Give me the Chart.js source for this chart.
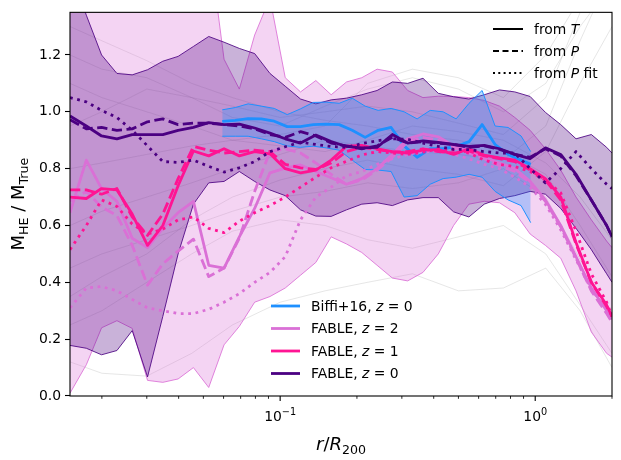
<!DOCTYPE html>
<html>
<head>
<meta charset="utf-8">
<script src="https://cdn.jsdelivr.net/npm/chart.js@4.4.0/dist/chart.umd.min.js"></script>
<style>
  html, body { margin: 0; padding: 0; background: #fff; }
</style>
</head>
<body>
<canvas id="chart" width="621" height="460"></canvas>
<script>
// radii (r/R200) for the FABLE profiles
const r = [0.015, 0.01738, 0.01995, 0.02291, 0.0263, 0.0302, 0.03467, 0.03981, 0.04571, 0.05248,
  0.06026, 0.06918, 0.07943, 0.0912, 0.1047, 0.1202, 0.138, 0.1585, 0.182, 0.2089,
  0.2399, 0.2754, 0.3162, 0.3631, 0.4169, 0.4786, 0.5495, 0.631, 0.7244, 0.8318,
  0.955, 1.0965, 1.2589, 1.4454, 1.6596, 1.9055, 2.0];

// FABLE z=0
const z0T  = [0.985,0.95,0.915,0.905,0.92,0.92,0.92,0.935,0.945,0.962,0.955,0.957,0.943,0.925,0.905,0.89,0.918,0.895,0.878,0.873,0.875,0.92,0.89,0.898,0.892,0.885,0.878,0.882,0.87,0.85,0.835,0.873,0.85,0.78,0.69,0.6,0.56];
const z0P  = [0.972,0.94,0.945,0.935,0.94,0.965,0.975,0.955,0.96,0.96,0.955,0.95,0.94,0.92,0.91,0.93,0.915,0.89,0.88,0.87,0.88,0.91,0.89,0.895,0.89,0.885,0.875,0.88,0.868,0.85,0.84,0.87,0.845,0.775,0.69,0.6,0.56];
const z0Pf = [1.05,1.035,1.005,0.98,0.935,0.88,0.825,0.822,0.83,0.808,0.788,0.803,0.825,0.86,0.877,0.893,0.885,0.878,0.875,0.888,0.898,0.905,0.903,0.89,0.878,0.868,0.867,0.86,0.855,0.855,0.80,0.75,0.80,0.86,0.80,0.745,0.73];
const z0Lo = [0.178,0.168,0.145,0.16,0.23,0.067,0.28,0.50,0.675,0.75,0.755,0.79,0.755,0.725,0.705,0.655,0.633,0.632,0.655,0.675,0.68,0.67,0.69,0.698,0.698,0.648,0.63,0.675,0.695,0.705,0.72,0.71,0.66,0.59,0.515,0.43,0.40];
const z0Hi = [1.5,1.34,1.2,1.135,1.13,1.148,1.178,1.195,1.23,1.265,1.245,1.223,1.205,1.135,1.09,1.045,1.028,1.042,1.048,1.06,1.075,1.105,1.1,1.118,1.065,1.053,1.045,1.06,1.077,1.07,1.054,0.998,0.955,0.905,0.92,0.875,0.855];

// FABLE z=1
const z1T  = [0.70,0.695,0.73,0.725,0.64,0.53,0.60,0.74,0.862,0.845,0.87,0.845,0.86,0.852,0.80,0.785,0.795,0.83,0.879,0.882,0.87,0.86,0.855,0.865,0.867,0.85,0.87,0.848,0.838,0.83,0.80,0.765,0.70,0.54,0.40,0.32,0.28];
const z1P  = [0.725,0.725,0.71,0.73,0.63,0.565,0.64,0.765,0.878,0.865,0.855,0.86,0.865,0.86,0.815,0.803,0.797,0.82,0.86,0.875,0.868,0.858,0.86,0.87,0.86,0.855,0.862,0.845,0.835,0.825,0.795,0.76,0.69,0.535,0.40,0.315,0.28];
const z1Pf = [0.515,0.60,0.69,0.667,0.605,0.57,0.587,0.62,0.63,0.59,0.575,0.615,0.645,0.67,0.70,0.735,0.77,0.803,0.826,0.848,0.86,0.855,0.85,0.858,0.87,0.865,0.855,0.83,0.815,0.807,0.79,0.76,0.715,0.58,0.43,0.33,0.28];

// FABLE z=2
const z2T  = [0.645,0.83,0.73,0.685,0.555,0.522,0.59,0.645,0.685,0.46,0.45,0.56,0.66,0.785,0.802,0.813,0.79,0.768,0.745,0.765,0.80,0.85,0.905,0.922,0.912,0.88,0.862,0.84,0.82,0.80,0.755,0.69,0.60,0.49,0.38,0.30,0.27];
const z2P  = [0.686,0.72,0.665,0.635,0.53,0.39,0.465,0.51,0.552,0.42,0.45,0.555,0.72,0.86,0.87,0.855,0.82,0.78,0.745,0.76,0.795,0.84,0.895,0.91,0.90,0.875,0.855,0.835,0.81,0.79,0.75,0.685,0.595,0.485,0.37,0.29,0.26];
const z2Pf = [0.31,0.38,0.385,0.37,0.34,0.31,0.30,0.29,0.29,0.305,0.33,0.36,0.40,0.435,0.49,0.62,0.70,0.735,0.775,0.79,0.815,0.835,0.85,0.86,0.86,0.85,0.835,0.815,0.80,0.77,0.735,0.675,0.585,0.48,0.375,0.305,0.285];
const z2Lo = [0.01,0.11,0.24,0.265,0.238,0.055,0.048,0.06,0.10,0.03,0.18,0.245,0.33,0.35,0.38,0.425,0.47,0.56,0.535,0.505,0.46,0.415,0.405,0.435,0.50,0.60,0.675,0.685,0.68,0.645,0.57,0.53,0.485,0.37,0.225,0.15,0.137];
const z2Hi = [1.6,1.6,1.6,1.6,1.6,1.6,1.6,1.6,1.6,1.6,1.185,1.08,1.27,1.40,1.12,1.07,1.11,1.06,1.105,1.12,1.15,1.14,1.075,1.05,1.055,1.054,1.05,1.04,1.02,0.98,0.935,0.87,0.795,0.70,0.62,0.545,0.522];

// Biffi+16
const rb   = [0.0593,0.0667,0.0749,0.0843,0.0948,0.1066,0.1199,0.1348,0.1515,0.1704,0.1916,0.2154,0.2422,0.2723,0.3062,0.3443,0.3873,0.4354,0.4896,0.5504,0.619,0.6963,0.7826,0.88,0.96];
const bMid = [0.966,0.97,0.976,0.975,0.967,0.948,0.948,0.955,0.957,0.955,0.935,0.91,0.935,0.945,0.88,0.84,0.87,0.87,0.878,0.895,0.955,0.885,0.85,0.83,0.815];
const bLo  = [0.914,0.914,0.914,0.905,0.895,0.88,0.875,0.879,0.873,0.865,0.83,0.797,0.795,0.79,0.70,0.705,0.745,0.765,0.77,0.78,0.77,0.72,0.69,0.67,0.61];
const bHi  = [1.007,1.015,1.028,1.02,1.012,0.99,1.01,1.033,1.034,1.03,1.048,1.02,1.005,1.012,1.0,0.975,1.005,1.0,0.975,1.03,1.075,0.95,0.945,0.915,0.86];

// individual clusters (faint grey)
const gx = [0.015,0.02,0.03,0.045,0.065,0.1,0.15,0.22,0.33,0.5,0.75,1.1,1.5,2.0];
const greyLines = [
  [0.12,0.08,0.07,0.15,0.25,0.33,0.37,0.40,0.43,0.37,0.38,0.45,0.30,0.10],
  [0.95,1.0,1.08,1.05,1.02,0.98,1.0,1.02,1.0,0.96,0.92,1.05,1.35,1.6],
  [0.6,0.65,0.7,0.75,0.8,0.85,0.9,0.88,0.86,0.85,0.83,0.95,1.25,1.5],
  [1.3,1.25,1.18,1.1,1.05,1.0,0.97,0.95,0.92,0.9,0.86,0.78,0.6,0.42],
  [0.25,0.3,0.4,0.5,0.58,0.62,0.6,0.55,0.52,0.56,0.6,0.5,0.32,0.15],
  [0.8,0.82,0.85,0.88,0.9,0.92,0.95,1.1,1.15,1.12,1.05,1.2,1.4,1.55],
  [1.1,1.05,1.0,0.95,0.9,0.88,0.86,0.9,0.95,0.93,0.9,0.82,0.7,0.55],
  [0.45,0.5,0.55,0.6,0.65,0.7,0.72,0.75,0.73,0.75,0.8,0.7,0.48,0.28],
  [0.35,0.42,0.5,0.62,0.7,0.76,0.8,0.83,0.8,0.78,0.74,0.86,1.1,1.3],
  [1.2,1.15,1.12,1.05,0.98,0.95,1.02,1.08,1.12,1.08,1.0,1.1,1.3,1.45]
];

// axis ticks and legend text
const yTicks = [0, 0.2, 0.4, 0.6, 0.8, 1.0, 1.2];
const xMajor = [0.1, 1];
const xExp = ['\u22121', '0'];
const xMinor = [0.02,0.03,0.04,0.05,0.06,0.07,0.08,0.09,0.2,0.3,0.4,0.5,0.6,0.7,0.8,0.9,2];
const seriesNames = ['Biffi+16', 'FABLE', 'FABLE', 'FABLE'];
const seriesZ = ['0', '2', '1', '0'];
const methodSym = ['T', 'P', 'P'];
const methodTail = ['', '', ' fit'];

const BLUE = '#1E90FF', ORCHID = '#DA70D6', PINK = '#FF1493', INDIGO = '#4B0082';
const DASH = [10.3, 4.5], DOT = [2.8, 4.6];
const FONT = '"DejaVu Sans", sans-serif';

const datasets = [];
const push = d => { datasets.push(d); return datasets.length - 1; };
const pts = (xs, ys) => xs.map((x, i) => ({ x: x, y: ys[i] }));
const base = { pointRadius: 0, tension: 0, borderCapStyle: 'butt', borderJoinStyle: 'round', fill: false };

greyLines.forEach(g => push({ ...base, data: pts(gx, g), borderColor: 'rgba(110,110,110,0.22)', borderWidth: 0.8 }));

function band(xs, lo, hi, edge, fillColor) {
  const iLo = push({ ...base, data: pts(xs, lo), borderColor: edge, borderWidth: 1 });
  push({ ...base, data: pts(xs, hi), borderColor: edge, borderWidth: 1,
    fill: { target: iLo }, backgroundColor: fillColor });
}
band(r, z2Lo, z2Hi, 'rgba(218,112,214,0.85)', 'rgba(218,112,214,0.3)');
band(r, z0Lo, z0Hi, 'rgba(75,0,130,0.85)', 'rgba(75,0,130,0.3)');
band(rb, bLo, bHi, BLUE, 'rgba(30,144,255,0.3)');

function curve(xs, ys, color, dash) {
  push({ ...base, data: pts(xs, ys), borderColor: color, borderWidth: 2.8, borderDash: dash });
}
curve(rb, bMid, BLUE, []);
curve(r, z2T, ORCHID, []); curve(r, z2P, ORCHID, DASH); curve(r, z2Pf, ORCHID, DOT);
curve(r, z1T, PINK, []);   curve(r, z1P, PINK, DASH);   curve(r, z1Pf, PINK, DOT);
curve(r, z0T, INDIGO, []); curve(r, z0P, INDIGO, DASH); curve(r, z0Pf, INDIGO, DOT);

// first pushed is drawn first (bottom)
datasets.forEach((d, k) => { d.order = -k; });

function partsWidth(ctx, parts, size) {
  let w = 0;
  for (const p of parts) {
    ctx.font = (p.i ? 'italic ' : '') + (size * (p.s || 1)) + 'px ' + FONT;
    w += ctx.measureText(p.t).width;
  }
  return w;
}
function drawParts(ctx, x, y, parts, size) {
  let cx = x;
  for (const p of parts) {
    ctx.font = (p.i ? 'italic ' : '') + (size * (p.s || 1)) + 'px ' + FONT;
    ctx.fillText(p.t, cx, y + (p.dy || 0) * size);
    cx += ctx.measureText(p.t).width;
  }
}
function seg(ctx, x1, y1, x2, y2) {
  ctx.beginPath(); ctx.moveTo(x1, y1); ctx.lineTo(x2, y2); ctx.stroke();
}

const overlay = {
  id: 'overlay',
  afterDraw(chart) {
    const { ctx, chartArea: a } = chart;
    const xs = chart.scales.x;
    ctx.save();
    ctx.fillStyle = '#000';
    ctx.strokeStyle = '#000';
    ctx.lineWidth = 1.1;
    ctx.strokeRect(a.left, a.top, a.right - a.left, a.bottom - a.top);

    // log axis ticks
    ctx.lineWidth = 0.85;
    xMinor.forEach(v => { const p = xs.getPixelForValue(v); seg(ctx, p, a.bottom, p, a.bottom + 2.8); });
    ctx.lineWidth = 1.1;
    xMajor.forEach(v => { const p = xs.getPixelForValue(v); seg(ctx, p, a.bottom, p, a.bottom + 4.9); });
    ctx.textBaseline = 'alphabetic';
    xMajor.forEach((v, i) => {
      const parts = [{ t: '10' }, { t: xExp[i], s: 0.7, dy: -0.45 }];
      const w = partsWidth(ctx, parts, 13.9);
      drawParts(ctx, xs.getPixelForValue(v) - w / 2, a.bottom + 25, parts, 13.9);
    });

    // axis titles
    const xt = [{ t: 'r', i: true }, { t: '/' }, { t: 'R', i: true }, { t: '200', s: 0.7, dy: 0.22 }];
    drawParts(ctx, (a.left + a.right) / 2 - partsWidth(ctx, xt, 18) / 2, 450, xt, 18);
    const yt = [{ t: 'M' }, { t: 'HE', s: 0.7, dy: 0.22 }, { t: ' / M' }, { t: 'True', s: 0.7, dy: 0.22 }];
    ctx.save();
    ctx.translate(24, (a.top + a.bottom) / 2);
    ctx.rotate(-Math.PI / 2);
    drawParts(ctx, -partsWidth(ctx, yt, 18) / 2, 0, yt, 18);
    ctx.restore();

    // legend: datasets
    const cols = [BLUE, ORCHID, PINK, INDIGO];
    const ly = [306, 328.5, 351, 373.5];
    ctx.textBaseline = 'middle';
    ctx.setLineDash([]);
    seriesNames.forEach((n, i) => {
      ctx.strokeStyle = cols[i]; ctx.lineWidth = 2.8;
      seg(ctx, 271, ly[i], 300, ly[i]);
      drawParts(ctx, 311, ly[i] + 1, [{ t: n + ', ' }, { t: 'z', i: true }, { t: ' = ' + seriesZ[i] }], 13.9);
    });

    // legend: methods
    const dashes = [[], [6, 3.5], [2, 3.3]];
    const my = [29, 51, 73];
    methodSym.forEach((s, i) => {
      ctx.strokeStyle = '#000'; ctx.lineWidth = 2;
      ctx.setLineDash(dashes[i]);
      seg(ctx, 493, my[i], 523, my[i]);
      ctx.setLineDash([]);
      drawParts(ctx, 534, my[i] + 1, [{ t: 'from ' }, { t: s, i: true }, { t: methodTail[i] }], 13.9);
    });
    ctx.restore();
  }
};

new Chart(document.getElementById('chart'), {
  type: 'line',
  data: { datasets: datasets },
  options: {
    responsive: false,
    animation: false,
    layout: { padding: { top: 10.7, right: 9, left: 0, bottom: 0 } },
    plugins: { legend: { display: false }, tooltip: { enabled: false } },
    scales: {
      x: {
        type: 'logarithmic', min: 0.015, max: 2,
        afterFit: s => { s.height = 64; },
        ticks: { display: false },
        grid: { display: false },
        border: { display: false }
      },
      y: {
        type: 'linear', min: 0, max: 1.35,
        afterFit: s => { s.width = 70; },
        afterBuildTicks: s => { s.ticks = yTicks.map(v => ({ value: v })); },
        ticks: {
          callback: v => v.toFixed(1), color: '#000', padding: 4,
          font: { family: 'DejaVu Sans', size: 13.9 }
        },
        grid: { drawOnChartArea: false, tickLength: 5, tickColor: '#000', tickWidth: 1.1 },
        border: { display: false }
      }
    }
  },
  plugins: [overlay]
});
</script>
</body>
</html>
